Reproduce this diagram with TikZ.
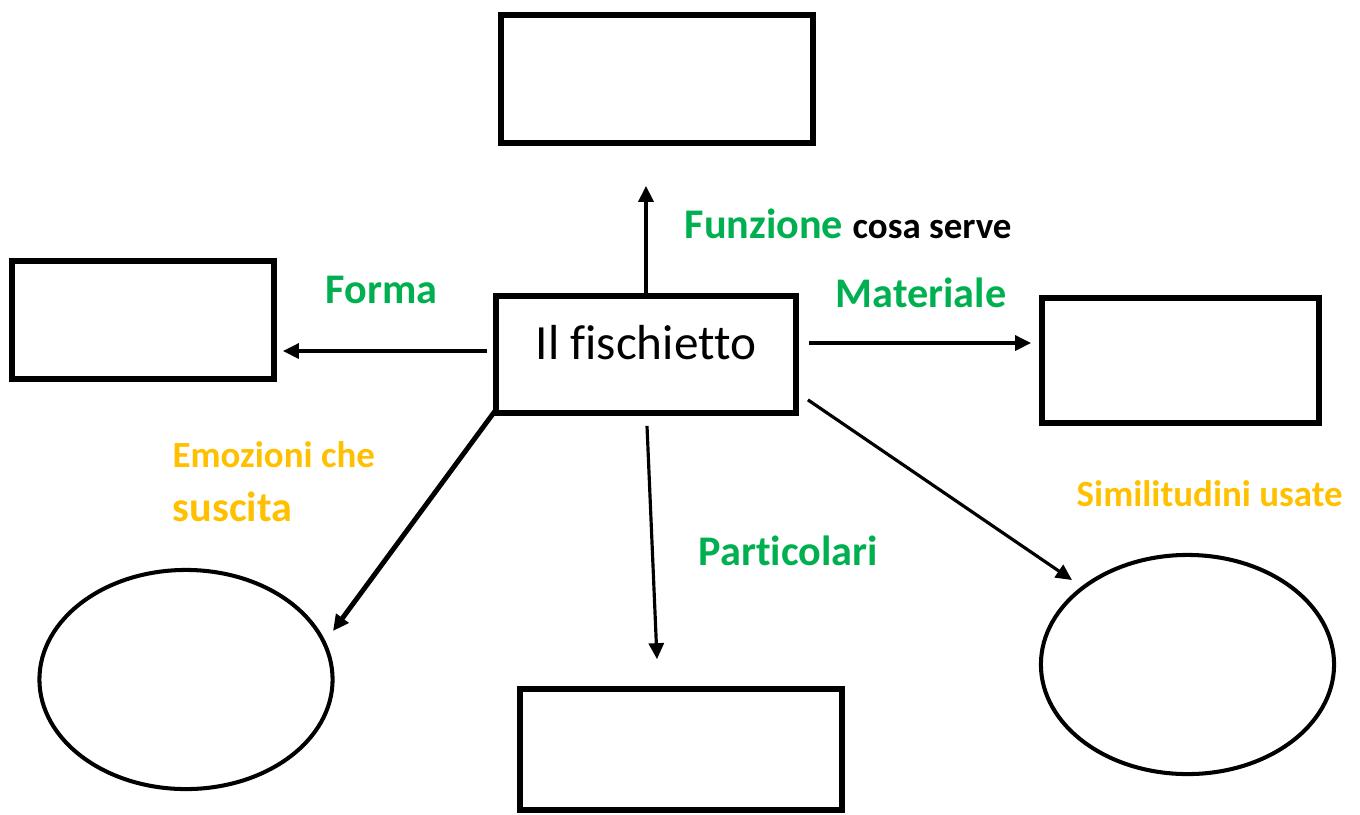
\documentclass[tikz,border=0pt]{standalone}
\usepackage{fontspec}
\setmainfont{Carlito}[Ligatures=NoCommon]
\usetikzlibrary{arrows.meta,shapes.geometric}

\definecolor{lblgreen}{HTML}{00B050}
\definecolor{lblorange}{HTML}{FFC000}

\tikzset{
    emptybox/.style={draw, rectangle, line width=1.6pt, inner sep=0pt},
    emptyoval/.style={draw, ellipse, line width=1.15pt, inner sep=0pt,
        minimum width=2.93cm, minimum height=2.19cm},
    arr/.style={-{Triangle[length=0.16cm,width=0.15cm]}, line width=0.9pt},
    greenlbl/.style={text=lblgreen, font=\bfseries\fontsize{12}{14}\selectfont,
        anchor=base west, inner sep=0pt},
    orangelbl/.style={text=lblorange, font=\bfseries\fontsize{10.5}{12}\selectfont,
        anchor=base west, inner sep=0pt}
}

\begin{document}
\begin{tikzpicture}[x=0.01cm, y=-0.01cm]
                        \useasboundingbox (0,0) rectangle (1360,814);

                        % Central box
                        \node[emptybox, minimum width=3cm, minimum height=1.17cm,
                            font=\fontsize{14}{16}\selectfont, text height=0.32cm, text depth=0.23cm]
                            (fisch) at (646,354.5) {Il fischietto};

                        % Empty boxes around it
                        \node[emptybox, minimum width=3.12cm, minimum height=1.28cm] (funz) at (657,79) {};
                        \node[emptybox, minimum width=2.62cm, minimum height=1.18cm] (forma) at (143,320) {};
                        \node[emptybox, minimum width=2.77cm, minimum height=1.25cm] (mat) at (1180.5,360.5) {};
                        \node[emptybox, minimum width=3.22cm, minimum height=1.21cm] (part) at (681,749.5) {};

                        % Empty ovals
                        \node[emptyoval] (emo) at (186,679.5) {};
                        \node[emptyoval] (simil) at (1187.5,664.5) {};

                        % Labels
                        \node[greenlbl] (lblfunz) at (684,238)
                            {Funzione \textcolor{black}{\fontsize{10.5}{12}\selectfont cosa serve}};
                        \node[greenlbl] (lblforma) at (325,303) {Forma};
                        \node[greenlbl] (lblmat) at (835,307) {Materiale};
                        \node[greenlbl] (lblpart) at (698,565) {Particolari};
                        \node[orangelbl] (lblemo) at (172,467) {Emozioni che};
                        \node[orangelbl, font=\bfseries\fontsize{12}{14}\selectfont] (lblsusc) at (172,521) {suscita};
                        \node[orangelbl] (lblsimil) at (1076,506) {Similitudini usate};

                        % Arrows
                        \draw[arr] (fisch.north) -- ([shift={(-11,40)}]funz.south);
                        \draw[arr] ([shift={(-6,-3.5)}]fisch.west) -- ([shift={(6,31)}]forma.east);
                        \draw[arr] ([shift={(10,-11.5)}]fisch.east) -- ([shift={(-8,-17.5)}]mat.west);
                        \draw[arr] ([shift={(1,10)}]fisch.south) -- ([shift={(-24,-27)}]part.north);
                        \draw[arr, line width=1.4pt] ([shift={(2,-5)}]fisch.south west)
                            -- ([shift={(147,-48.5)}]emo.center);
                        \draw[arr] ([shift={(9,-16)}]fisch.south east)
                            -- ([shift={(-115.5,-84.5)}]simil.center);

                    \end{tikzpicture}
\end{document}
